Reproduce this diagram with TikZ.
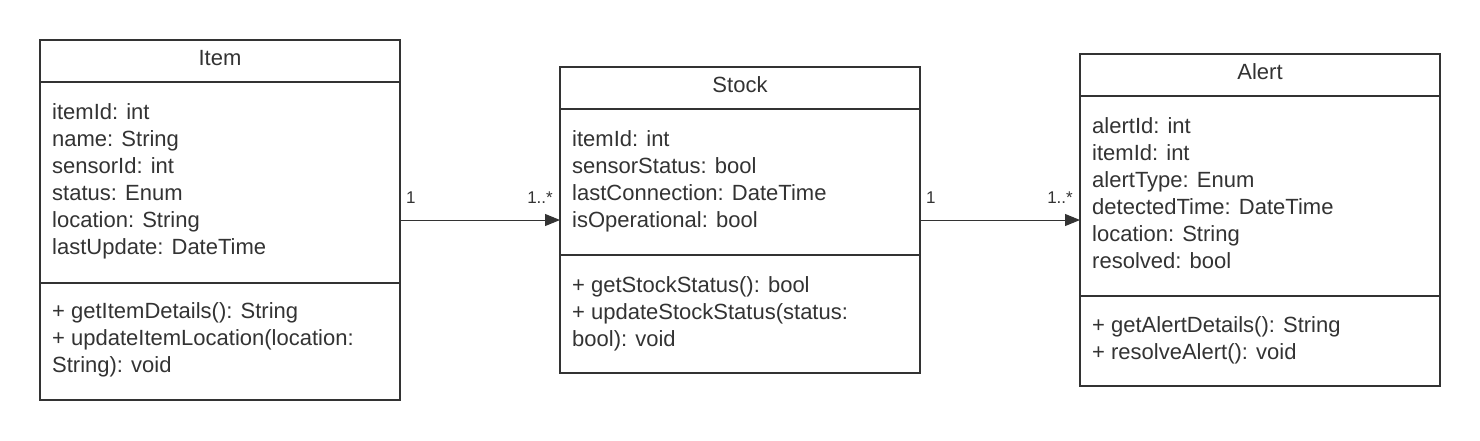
\documentclass[tikz,border=0pt]{standalone}
\usepackage{fontspec}
\setmainfont{Liberation Sans}
\usetikzlibrary{arrows.meta}
\definecolor{ink}{HTML}{333333}
\tikzset{
  classbox/.style={draw=ink, line width=2pt, fill=white, anchor=north west, inner sep=0pt, outer sep=0pt},
  sep/.style={draw=ink, line width=2pt},
  txt/.style={anchor=base west, inner sep=0pt, text=ink, font=\fontsize{22pt}{27pt}\selectfont},
  ttl/.style={anchor=base, inner sep=0pt, text=ink, font=\fontsize{22pt}{27pt}\selectfont},
  mult/.style={inner sep=0pt, text=ink, font=\fontsize{17pt}{20pt}\selectfont},
  assoc/.style={draw=ink, line width=1pt, -{Triangle[length=15pt,width=12pt]}}
}
\begin{document}
\begin{tikzpicture}[x=1pt,y=-1pt]
\useasboundingbox[fill=white] (0,0) rectangle (1480,440);

% Item
\node[classbox, minimum width=360pt, minimum height=360pt] (item) at (40,40) {};
\draw[sep] (40,82) -- (400,82);
\draw[sep] (40,283) -- (400,283);
\node[ttl] (itemT) at (220,65) {Item};
\foreach \t [count=\i] in {itemId: int, name: String, sensorId: int, status: Enum, location: String, lastUpdate: DateTime}
  \node[txt] (itemA\i) at (52,{119+27*(\i-1)}) {\t};
\node[txt] (itemM1) at (52,318) {+ getItemDetails(): String};
\node[txt] (itemM2) at (52,345) {+ updateItemLocation(location:};
\node[txt] (itemM3) at (52,372) {String): void};

% Stock
\node[classbox, minimum width=360pt, minimum height=306pt] (stock) at (560,67) {};
\draw[sep] (560,109) -- (920,109);
\draw[sep] (560,255) -- (920,255);
\node[ttl] (stockT) at (740,92) {Stock};
\foreach \t [count=\i] in {itemId: int, sensorStatus: bool, lastConnection: DateTime, isOperational: bool}
  \node[txt] (stockA\i) at (572,{146+27*(\i-1)}) {\t};
\node[txt] (stockM1) at (572,292) {+ getStockStatus(): bool};
\node[txt] (stockM2) at (572,319) {+ updateStockStatus(status:};
\node[txt] (stockM3) at (572,346) {bool): void};

% Alert
\node[classbox, minimum width=360pt, minimum height=332pt] (alert) at (1080,54) {};
\draw[sep] (1080,96) -- (1440,96);
\draw[sep] (1080,296) -- (1440,296);
\node[ttl] (alertT) at (1260,79) {Alert};
\foreach \t [count=\i] in {alertId: int, itemId: int, alertType: Enum, detectedTime: DateTime, location: String, resolved: bool}
  \node[txt] (alertA\i) at (1092,{133+27*(\i-1)}) {\t};
\node[txt] (alertM1) at (1092,332) {+ getAlertDetails(): String};
\node[txt] (alertM2) at (1092,359) {+ resolveAlert(): void};

% Associations
\draw[assoc] (item.east) -- (stock.west);
\draw[assoc] (stock.east) -- (alert.west);
\node[mult, anchor=base west] (m1) at (406,203) {1};
\node[mult, anchor=base east] (m2) at (553,203) {1..*};
\node[mult, anchor=base west] (m3) at (926,203) {1};
\node[mult, anchor=base east] (m4) at (1073,203) {1..*};
\end{tikzpicture}
\end{document}
